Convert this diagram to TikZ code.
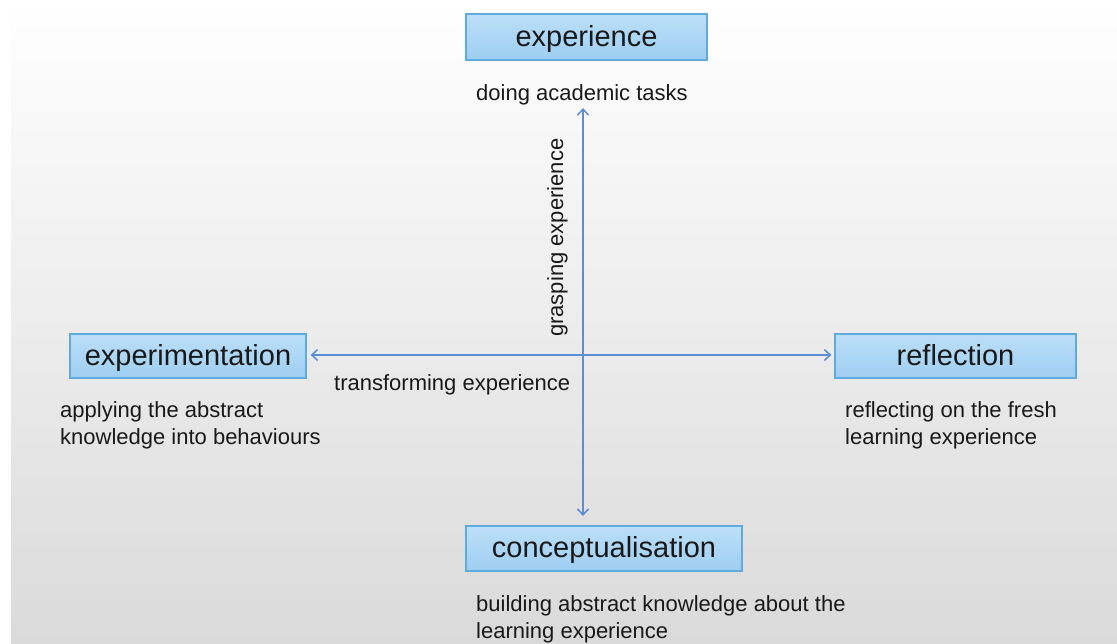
\documentclass[tikz,border=0pt]{standalone}
\usepackage{fontspec}
\setmainfont{Liberation Sans}
\usetikzlibrary{arrows.meta}
\definecolor{boxtop}{RGB}{158,206,242}
\definecolor{boxbot}{RGB}{188,223,248}
\definecolor{boxline}{RGB}{95,172,220}
\definecolor{arrowc}{RGB}{92,142,214}
\definecolor{txt}{RGB}{25,25,25}
\definecolor{bgbot}{RGB}{218,218,218}
\tikzset{
  stagebox/.style={draw=boxline, line width=1.2pt, top color=boxbot, bottom color=boxtop,
    text=txt, font=\fontsize{29}{34}\selectfont, text height=22pt, text depth=4pt,
    inner sep=0pt},
  desc/.style={text=txt, font=\fontsize{22}{27}\selectfont, inner sep=0pt, align=left},
  axis/.style={draw=arrowc, line width=1.5pt, {Straight Barb[length=6pt,width=11pt]}-{Straight Barb[length=6pt,width=11pt]}}
}
\begin{document}
\begin{tikzpicture}[x=1pt,y=-1pt]
\useasboundingbox (0,0) rectangle (1117,643);
\fill[white] (0,0) rectangle (1117,643);
\shade[top color=white, bottom color=bgbot] (11,0) rectangle (1117,643);

\node[stagebox, minimum width=241pt, minimum height=46pt] (exp) at (586.5,37) {experience};
\node[stagebox, minimum width=236pt, minimum height=44pt] (exm) at (188,356) {experimentation};
\node[stagebox, minimum width=241pt, minimum height=44pt] (ref) at (955.5,356) {reflection};
\node[stagebox, minimum width=276pt, minimum height=45pt] (con) at (604,548.5) {conceptualisation};

\node[desc, anchor=base west] (doing) at (476,100) {doing academic tasks};
\node[desc, anchor=base west] (apply) at (60,444) {applying the abstract\\knowledge into behaviours};
\node[desc, anchor=base west] (refl) at (845,444) {reflecting on the fresh\\learning experience};
\node[desc, anchor=base west] (build) at (476,638) {building abstract knowledge about the\\learning experience};

\node[desc, anchor=base west] (trans) at (334,390) {transforming experience};
\node[desc, anchor=base west, rotate=90] (grasp) at (563,337) {grasping experience};

\coordinate (vt) at (583,108);
\coordinate (vb) at (583,516);
\draw[axis] (vt) -- (vb);
\draw[axis, shorten <=4pt, shorten >=3pt] (exm.east |- 0,355) -- (ref.west |- 0,355);
\end{tikzpicture}
\end{document}
